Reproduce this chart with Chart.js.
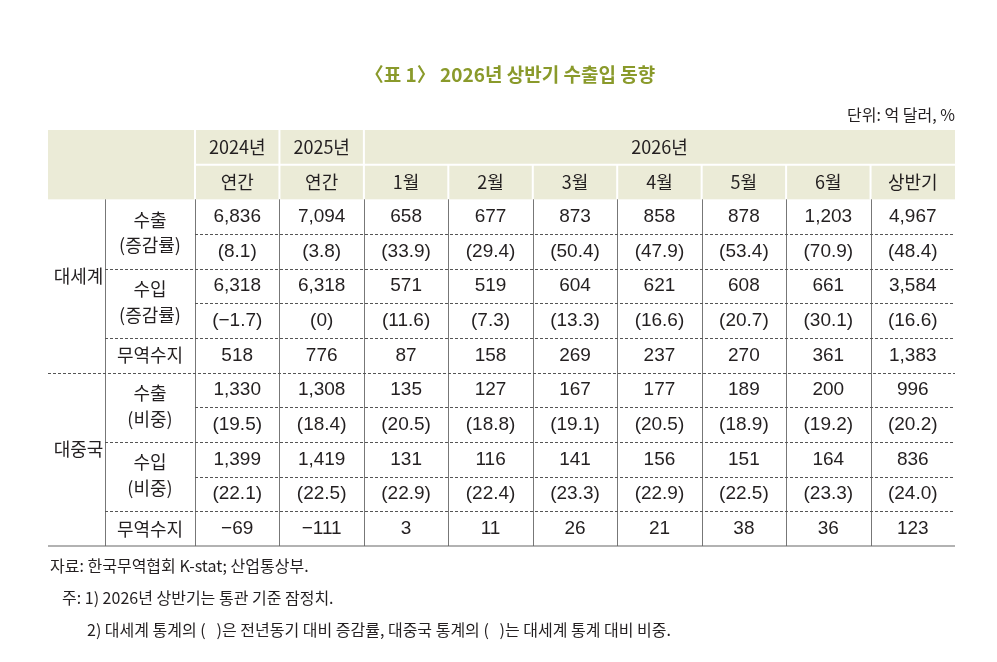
<!DOCTYPE html>
<html><head><meta charset="utf-8">
<script src="https://cdn.jsdelivr.net/npm/chart.js@4"></script>
<style>html,body{margin:0;background:#fff}#w{width:997px;height:662px;position:relative}</style>
</head><body><div id="w"><canvas id="c"></canvas></div>
<script>
const columns = ['2024','2025','1월','2월','3월','4월','5월','6월','상반기'];
const headerTop = ['2024년','2025년','','','','2026년','','',''];
const headerBottom = ['연간','연간','1월','2월','3월','4월','5월','6월','상반기'];
const rowKeys = ['h1','h2','wEx','wExR','wIm','wImR','wBal','cEx','cExR','cIm','cImR','cBal'];
const worldExport = ['6,836','7,094','658','677','873','858','878','1,203','4,967'];
const worldExportRate = ['(8.1)','(3.8)','(33.9)','(29.4)','(50.4)','(47.9)','(53.4)','(70.9)','(48.4)'];
const worldImport = ['6,318','6,318','571','519','604','621','608','661','3,584'];
const worldImportRate = ['(−1.7)','(0)','(11.6)','(7.3)','(13.3)','(16.6)','(20.7)','(30.1)','(16.6)'];
const worldBalance = ['518','776','87','158','269','237','270','361','1,383'];
const chinaExport = ['1,330','1,308','135','127','167','177','189','200','996'];
const chinaExportShare = ['(19.5)','(18.4)','(20.5)','(18.8)','(19.1)','(20.5)','(18.9)','(19.2)','(20.2)'];
const chinaImport = ['1,399','1,419','131','116','141','156','151','164','836'];
const chinaImportShare = ['(22.1)','(22.5)','(22.9)','(22.4)','(23.3)','(22.9)','(22.5)','(23.3)','(24.0)'];
const chinaBalance = ['−69','−111','3','11','26','21','38','36','123'];
const bodyRows = [worldExport,worldExportRate,worldImport,worldImportRate,worldBalance,chinaExport,chinaExportShare,chinaImport,chinaImportShare,chinaBalance];

const FONT = '"Liberation Sans","Noto Sans CJK KR",sans-serif';
const KFONT = '"Noto Sans CJK KR","Liberation Sans",sans-serif';
const TXT = '#231f20';

const cells = [];
bodyRows.forEach((r,i)=>r.forEach((v,j)=>cells.push({x:columns[j],y:rowKeys[i+2],t:v})));

const tablePlugin = {
  id:'table',
  beforeDatasetsDraw(chart){
    const ctx=chart.ctx, xs=chart.scales.x, ys=chart.scales.y, ca=chart.chartArea;
    const rh = ys.getPixelForValue(1)-ys.getPixelForValue(0);
    const cw = xs.getPixelForValue(1)-xs.getPixelForValue(0);
    const top = ys.getPixelForValue(0)-rh/2, bot = ys.getPixelForValue(11)+rh/2;
    const L = 48, C2 = 105, R = ca.right;
    const edge = i => ys.getPixelForValue(i)-rh/2;
    ctx.save();
    ctx.fillStyle='#ebebd7';
    ctx.fillRect(L,top,R-L,edge(2)-top);
    ctx.strokeStyle='#fff';ctx.lineWidth=2;
    ctx.beginPath();
    for(let j=0;j<=2;j++){const x=xs.getPixelForValue(j)-cw/2;ctx.moveTo(x,top);ctx.lineTo(x,edge(2));}
    for(let j=3;j<9;j++){const x=xs.getPixelForValue(j)-cw/2;ctx.moveTo(x,edge(1));ctx.lineTo(x,edge(2));}
    ctx.moveTo(ca.left,edge(1));ctx.lineTo(R,edge(1));
    ctx.stroke();
    ctx.strokeStyle='#777';ctx.lineWidth=1;
    ctx.beginPath();
    for(let j=0;j<9;j++){const x=Math.round(xs.getPixelForValue(j)-cw/2)+0.5;ctx.moveTo(x,edge(2));ctx.lineTo(x,bot);}
    ctx.moveTo(C2+0.5,edge(2));ctx.lineTo(C2+0.5,bot);
    ctx.stroke();
    ctx.setLineDash([3,2]);ctx.strokeStyle='#555';
    const dash=[[3,ca.left],[4,C2],[5,ca.left],[6,C2],[7,L],[8,ca.left],[9,C2],[10,ca.left],[11,C2]];
    ctx.beginPath();
    dash.forEach(([i,x0])=>{const y=Math.round(edge(i))+0.5;ctx.moveTo(x0,y);ctx.lineTo(R,y);});
    ctx.stroke();
    ctx.setLineDash([]);ctx.strokeStyle='#666';ctx.lineWidth=1.2;
    ctx.beginPath();ctx.moveTo(L,bot);ctx.lineTo(R,bot);ctx.stroke();
    ctx.fillStyle=TXT;ctx.textAlign='center';ctx.textBaseline='middle';
    ctx.font='18px '+KFONT;
    headerTop.forEach((t,j)=>{if(!t)return;const x=j===5?(xs.getPixelForValue(2)-cw/2+R)/2:xs.getPixelForValue(j);ctx.fillText(t,x,ys.getPixelForValue(0));});
    headerBottom.forEach((t,j)=>ctx.fillText(t,xs.getPixelForValue(j),ys.getPixelForValue(1)));
    const mid=(a,b)=>(ys.getPixelForValue(a)+ys.getPixelForValue(b))/2;
    const c2x=(C2+ca.left)/2;
    const pairs=[['수출','(증감률)',2],['수입','(증감률)',4],['수출','(비중)',7],['수입','(비중)',9]];
    pairs.forEach(([a,b,i])=>{ctx.fillText(a,c2x,ys.getPixelForValue(i)+3);ctx.fillText(b,c2x,ys.getPixelForValue(i+1)-6);});
    ctx.fillText('무역수지',c2x,ys.getPixelForValue(6));
    ctx.fillText('무역수지',c2x,ys.getPixelForValue(11));
    ctx.fillText('대세계',(L+C2)/2+2,mid(2,6)-10);
    ctx.fillText('대중국',(L+C2)/2+2,mid(7,11)-10);
    ctx.font='bold 19px '+KFONT;ctx.fillStyle='#8a9a2b';
    ctx.fillText('〈표 1〉 2026년 상반기 수출입 동향',510,75);
    ctx.font='16px '+KFONT;ctx.fillStyle=TXT;ctx.textAlign='right';
    ctx.fillText('단위: 억 달러, %',R,115);
    ctx.textAlign='left';
    ctx.fillText('자료: 한국무역협회 K-stat; 산업통상부.',50,566);
    ctx.fillText('주: 1) 2026년 상반기는 통관 기준 잠정치.',62,598);
    ctx.fillText('2) 대세계 통계의 (   )은 전년동기 대비 증감률, 대중국 통계의 (   )는 대세계 통계 대비 비중.',87,630);
    ctx.textAlign='center';ctx.font='19px '+FONT;
    chart.getDatasetMeta(0).data.forEach((el,k)=>ctx.fillText(cells[k].t,el.x,el.y));
    ctx.restore();
  }
};

new Chart(document.getElementById('c'),{
  type:'scatter',
  data:{datasets:[{data:cells,pointRadius:0,pointHoverRadius:0}]},
  options:{
    responsive:true,maintainAspectRatio:false,animation:false,
    layout:{padding:{left:195,right:42,top:130,bottom:116}},
    plugins:{legend:{display:false},tooltip:{enabled:false}},
    scales:{
      x:{type:'category',labels:columns,offset:true,display:false},
      y:{type:'category',labels:rowKeys,offset:true,display:false}
    },
    events:[]
  },
  plugins:[tablePlugin]
});
</script></body></html>
